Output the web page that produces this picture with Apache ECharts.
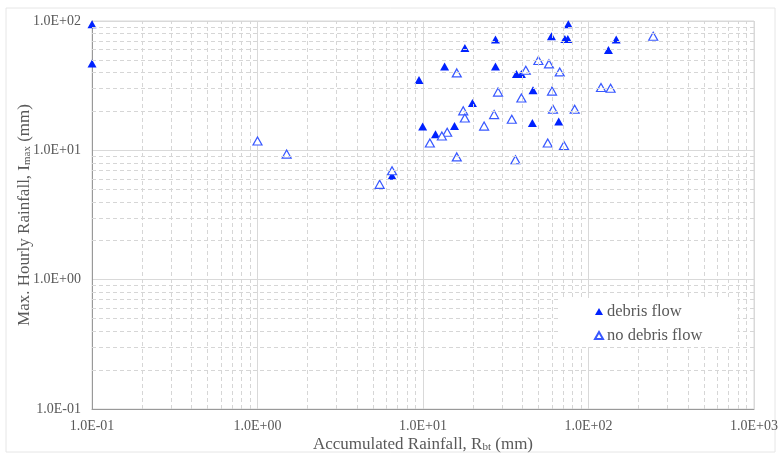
<!DOCTYPE html>
<html>
<head>
<meta charset="utf-8">
<script src="https://cdn.jsdelivr.net/npm/echarts@6/dist/echarts.min.js"></script>
<style>
  html, body { margin: 0; padding: 0; background: #fff; }
  #chart { width: 781px; height: 457px; }
</style>
</head>
<body>
<div id="chart"></div>
<script>
// 数据：debris flow 发生点
var debrisX = [0.1, 0.1, 75.5, 59.7, 72, 75, 27.4, 17.9, 147, 132, 13.5, 27.4, 36.7, 39.3, 9.46, 46.2, 19.9, 9.95, 11.9, 15.5, 45.8, 66.1, 6.5]
var debrisY = [94.3, 46.9, 94.3, 76.2, 72.6, 72.6, 71.8, 61.9, 71.8, 59.7, 44.5, 44.5, 39.0, 39.0, 35.0, 29.2, 23.2, 15.3, 13.3, 15.4, 16.3, 16.7, 6.35]
// 数据：no debris flow 点
var noDebrisX = [246, 49.8, 57.7, 67, 41.8, 16, 119, 136, 28.4, 60.2, 39.3, 61, 82.5, 17.5, 17.9, 26.9, 34.4, 23.4, 14, 13, 11, 56.7, 71.1, 16, 36.2, 6.5, 5.47, 1.0, 1.5]
var noDebrisY = [76.2, 49.5, 46.6, 40.4, 41.6, 39.7, 30.6, 30.2, 28.2, 28.7, 25.4, 20.8, 20.8, 20.2, 17.8, 18.9, 17.4, 15.4, 13.8, 12.9, 11.4, 11.4, 10.9, 8.9, 8.45, 6.95, 5.46, 11.8, 9.35]
// 坐标轴范围
var xTicks = [0.1, 1, 10, 100, 1000]
var yTicks = [0.1, 1, 10, 100]

var font = 'Liberation Serif'
var textColor = '#595959'

function zip (xs, ys) {
  return xs.map(function (x, i) { return [x, ys[i]] })
}
// 科学计数法标签 1.0E+02
function sci (v) {
  var e = Math.round(Math.log10(v))
  var m = v / Math.pow(10, e)
  return m.toFixed(1) + 'E' + (e < 0 ? '-' : '+') + String(Math.abs(e)).padStart(2, '0')
}
// 次网格线 (2..9 每个数量级)
function minorLines (ticks, key) {
  var out = []
  for (var i = 0; i < ticks.length - 1; i++) {
    for (var k = 2; k <= 9; k++) {
      var o = {}
      o[key] = ticks[i] * k
      out.push(o)
    }
  }
  return out
}

var nameRich = {
  m: { fontFamily: font, fontSize: 17, color: textColor, lineHeight: 17, verticalAlign: 'top' },
  s: { fontFamily: font, fontSize: 11, color: textColor, lineHeight: 13, verticalAlign: 'bottom', padding: [7, 0, 0, 0] }
}

var myChart = echarts.init(document.getElementById('chart'))
myChart.setOption({
  animation: false,
  graphic: [{
    type: 'rect',
    shape: { x: 6, y: 8, width: 769, height: 444 },
    style: { fill: 'none', stroke: '#e6e6e6', lineWidth: 1 },
    silent: true,
    z: -10
  }],
  grid: {
    left: 92, right: 27, top: 21, bottom: 48,
    outerBoundsMode: 'none',
    containLabel: false,
    show: true, borderColor: '#d9d9d9', borderWidth: 1
  },
  legend: {
    data: ['debris flow', 'no debris flow'],
    orient: 'vertical',
    left: 558,
    top: 298,
    z: 20,
    padding: [5, 35, 3, 36],
    itemGap: 7,
    itemWidth: 8,
    itemHeight: 7,
    backgroundColor: '#ffffff',
    textStyle: { fontFamily: font, fontSize: 16.5, color: textColor, padding: [0, 0, 0, -1] }
  },
  xAxis: {
    type: 'log',
    logBase: 10,
    min: xTicks[0],
    max: xTicks[xTicks.length - 1],
    name: '{m|Accumulated Rainfall, R}{s|bt}{m| (mm)}',
    nameLocation: 'middle',
    nameGap: 27,
    nameMoveOverlap: false,
    nameTextStyle: { rich: nameRich },
    axisLine: { show: true, lineStyle: { color: '#999999', width: 1 } },
    axisTick: { show: false },
    axisLabel: { formatter: sci, fontFamily: font, fontSize: 14, color: textColor, margin: 10 },
    splitLine: { show: true, lineStyle: { color: '#d9d9d9', width: 1 } }
  },
  yAxis: {
    type: 'log',
    logBase: 10,
    min: yTicks[0],
    max: yTicks[yTicks.length - 1],
    name: '{m|Max. Hourly Rainfall, I}{s|max}{m| (mm)}',
    nameLocation: 'middle',
    nameRotate: 90,
    nameGap: 59,
    nameMoveOverlap: false,
    nameTextStyle: { rich: nameRich },
    axisLine: { show: true, lineStyle: { color: '#999999', width: 1 } },
    axisTick: { show: false },
    axisLabel: { formatter: sci, fontFamily: font, fontSize: 14, color: textColor, margin: 11 },
    splitLine: { show: true, lineStyle: { color: '#d9d9d9', width: 1 } }
  },
  series: [
    {
      // 只用来画虚线次网格
      name: 'minor',
      type: 'scatter',
      data: [],
      z: 1,
      silent: true,
      markLine: {
        silent: true,
        symbol: 'none',
        label: { show: false },
        animation: false,
        lineStyle: { type: [4, 3], color: '#d6d6d6', width: 1 },
        emphasis: { disabled: true },
        data: minorLines(xTicks, 'xAxis').concat(minorLines(yTicks, 'yAxis'))
      }
    },
    {
      name: 'debris flow',
      type: 'scatter',
      symbol: 'triangle',
      symbolSize: [9, 8],
      z: 3,
      itemStyle: { color: '#0022ff', opacity: 1 },
      data: zip(debrisX, debrisY)
    },
    {
      name: 'no debris flow',
      type: 'scatter',
      symbol: 'triangle',
      symbolSize: [9, 8],
      z: 3,
      itemStyle: { color: '#ffffff', borderColor: '#3858ff', borderWidth: 1.2, opacity: 1 },
      data: zip(noDebrisX, noDebrisY)
    }
  ]
})
</script>
</body>
</html>
